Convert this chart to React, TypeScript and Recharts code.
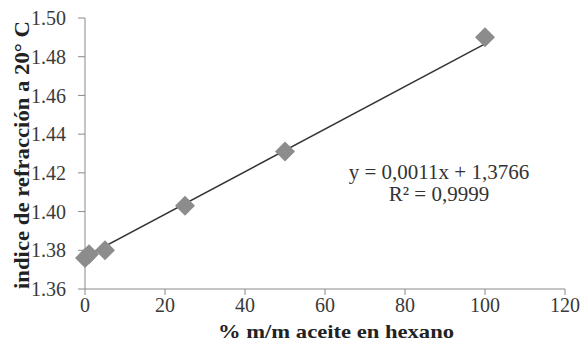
import { ScatterChart, Scatter, XAxis, YAxis, ReferenceLine } from "recharts";

// % m/m aceite en hexano
const percentOil = [0, 1, 5, 25, 50, 100];
// índice de refracción medido
const refIndex = [1.376, 1.378, 1.38, 1.403, 1.431, 1.49];

const xTicks = [0, 20, 40, 60, 80, 100, 120];
const yTicks = [1.36, 1.38, 1.4, 1.42, 1.44, 1.46, 1.48, 1.5];

// línea de tendencia (Excel): y = 0,0011x + 1,3766
const trendX = [0, 100];
const trendY = [1.3766, 1.4866];

const data = percentOil.map((x, i) => ({ x, y: refIndex[i] }));

const FONT = "Liberation Serif, Times New Roman, serif";

const Diamond = (props: any) => {
  const { cx, cy } = props;
  const r = 10;
  return (
    <polygon
      points={`${cx},${cy - r} ${cx + r},${cy} ${cx},${cy + r} ${cx - r},${cy}`}
      fill="#8c8c8c"
    />
  );
};

export default function App() {
  return (
    <div style={{ position: "absolute", left: 0, top: 0, background: "#fff", fontFamily: FONT }}>
      <ScatterChart
        width={584}
        height={342}
        margin={{ top: 18, right: 19, bottom: 23, left: 0 }}
        style={{ fontFamily: FONT }}
      >
        <XAxis
          type="number"
          dataKey="x"
          domain={[0, 120]}
          ticks={xTicks}
          height={30}
          axisLine={{ stroke: "#8a8a8a" }}
          tickLine={{ stroke: "#8a8a8a" }}
          tickSize={6}
          tickMargin={3}
          tick={{ fill: "#3a3a3a", fontSize: 20, style: { fontFamily: FONT } }}
        />
        <YAxis
          type="number"
          dataKey="y"
          domain={[1.36, 1.5]}
          ticks={yTicks}
          width={85}
          tickFormatter={(v: number) => v.toFixed(2)}
          axisLine={{ stroke: "#8a8a8a" }}
          tickLine={{ stroke: "#8a8a8a" }}
          tickSize={7}
          tickMargin={12}
          tick={{ fill: "#3a3a3a", fontSize: 20, style: { fontFamily: FONT } }}
        />
        <ReferenceLine
          segment={[
            { x: trendX[0], y: trendY[0] },
            { x: trendX[1], y: trendY[1] },
          ]}
          stroke="#333"
          strokeWidth={1.5}
          ifOverflow="extendDomain"
        />
        <Scatter data={data} shape={Diamond} isAnimationActive={false} />
        <text
          x={439}
          y={179}
          textAnchor="middle"
          fill="#333"
          fontSize={21}
          style={{ fontFamily: FONT }}
        >
          y = 0,0011x + 1,3766
        </text>
        <text
          x={439}
          y={201}
          textAnchor="middle"
          fill="#333"
          fontSize={21}
          style={{ fontFamily: FONT }}
        >
          R² = 0,9999
        </text>
        <text
          x={336}
          y={338}
          textAnchor="middle"
          fill="#222"
          fontSize={19}
          fontWeight="bold"
          textLength={236}
          lengthAdjust="spacingAndGlyphs"
          style={{ fontFamily: FONT }}
        >
          % m/m aceite en hexano
        </text>
        <text
          x={29}
          y={155}
          transform="rotate(-90 29 155)"
          textAnchor="middle"
          fill="#222"
          fontSize={21}
          fontWeight="bold"
          textLength={268}
          lengthAdjust="spacingAndGlyphs"
          style={{ fontFamily: FONT }}
        >
          indice de refracción a 20° C
        </text>
      </ScatterChart>
    </div>
  );
}
